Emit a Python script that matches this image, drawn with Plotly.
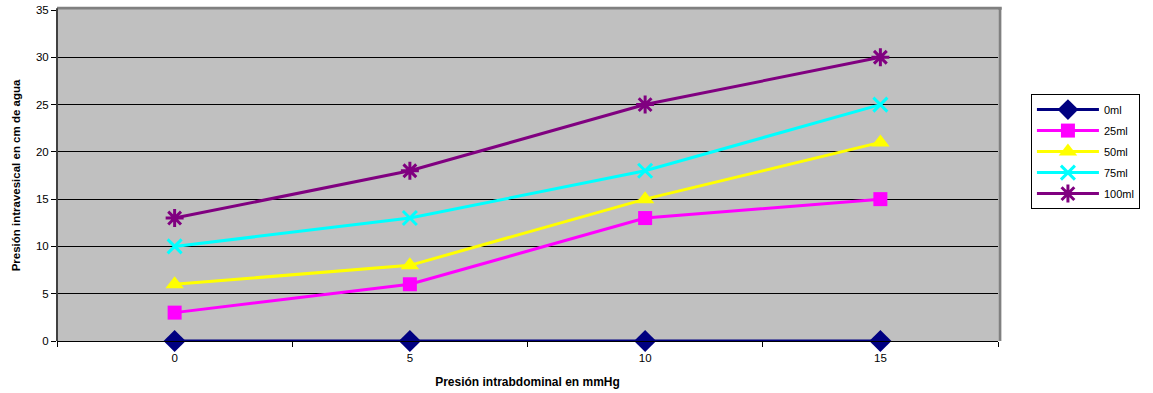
import plotly.graph_objects as go

# Presión intrabdominal (mmHg) on the category axis
presion_abdominal = ["0", "5", "10", "15"]

# Presión intravesical (cm de agua) for each instilled volume
serie_0ml = [0, 0, 0, 0]
serie_25ml = [3, 6, 13, 15]
serie_50ml = [6, 8, 15, 21]
serie_75ml = [10, 13, 18, 25]
serie_100ml = [13, 18, 25, 30]

y_ticks = [0, 5, 10, 15, 20, 25, 30, 35]

series = [
    ("0ml", serie_0ml, "#000080", "diamond", 17, 0),
    ("25ml", serie_25ml, "#FF00FF", "square", 14, 0),
    ("50ml", serie_50ml, "#FFFF00", "triangle-up", 16, 0),
    ("75ml", serie_75ml, "#00FFFF", "x-thin-open", 14, 3),
    ("100ml", serie_100ml, "#800080", "asterisk-open", 15, 3),
]

fig = go.Figure()
for name, vals, color, symbol, size, mlw in series:
    fig.add_trace(go.Scatter(
        x=presion_abdominal, y=vals, name=name, legendgroup=name,
        mode="lines+markers",
        line=dict(color=color, width=3),
        marker=dict(symbol=symbol, size=size, color=color,
                    line=dict(color=color, width=mlw)),
        cliponaxis=False,
    ))

font_family = "Liberation Sans, Arial, sans-serif"

fig.update_layout(
    width=1153, height=393,
    margin=dict(l=57, r=155, t=10, b=52, autoexpand=False),
    paper_bgcolor="white",
    plot_bgcolor="#C0C0C0",
    font=dict(family=font_family, size=11, color="#000000"),
    showlegend=True,
    legend=dict(
        x=1.035, y=0.746, xanchor="left", yanchor="top",
        bgcolor="white", bordercolor="black", borderwidth=1,
        font=dict(size=11, color="#000000"),
        traceorder="grouped", tracegroupgap=2,
        itemwidth=62,
    ),
    xaxis=dict(
        type="category", range=[-0.5, 3.5], automargin=False,
        tickson="boundaries", ticks="outside", ticklen=5, tickcolor="#000000",
        ticklabelstandoff=6,
        showgrid=False, zeroline=False,
        showline=True, linecolor="#000000", linewidth=1,
        tickfont=dict(size=11.5, color="#000000"),
        title=dict(text="<b>Presión intrabdominal en mmHg</b>",
                   font=dict(size=12), standoff=14),
    ),
    yaxis=dict(
        range=[0, 35], tickvals=y_ticks, ticks="outside", ticklen=5,
        tickcolor="#000000", automargin=False,
        showgrid=True, gridcolor="#000000", gridwidth=1,
        zeroline=False, showline=False,
        tickfont=dict(size=11.5, color="#000000"),
        title=dict(text="<b>Presión intravesical en cm de agua</b>",
                   font=dict(size=11.5), standoff=12),
    ),
)

# Frame of the plot area: grey top/right edges, dark left edge
fig.add_shape(type="line", xref="paper", yref="paper", x0=0, x1=1.004, y0=1.005, y1=1.005,
              line=dict(color="#808080", width=3), layer="above")
fig.add_shape(type="line", xref="paper", yref="paper", x0=1.002, x1=1.002, y0=0, y1=1.005,
              line=dict(color="#808080", width=3), layer="above")
fig.add_shape(type="line", xref="paper", yref="paper", x0=0, x1=0, y0=0, y1=1.005,
              line=dict(color="#404040", width=2), layer="above")

fig.write_html("out.html")
